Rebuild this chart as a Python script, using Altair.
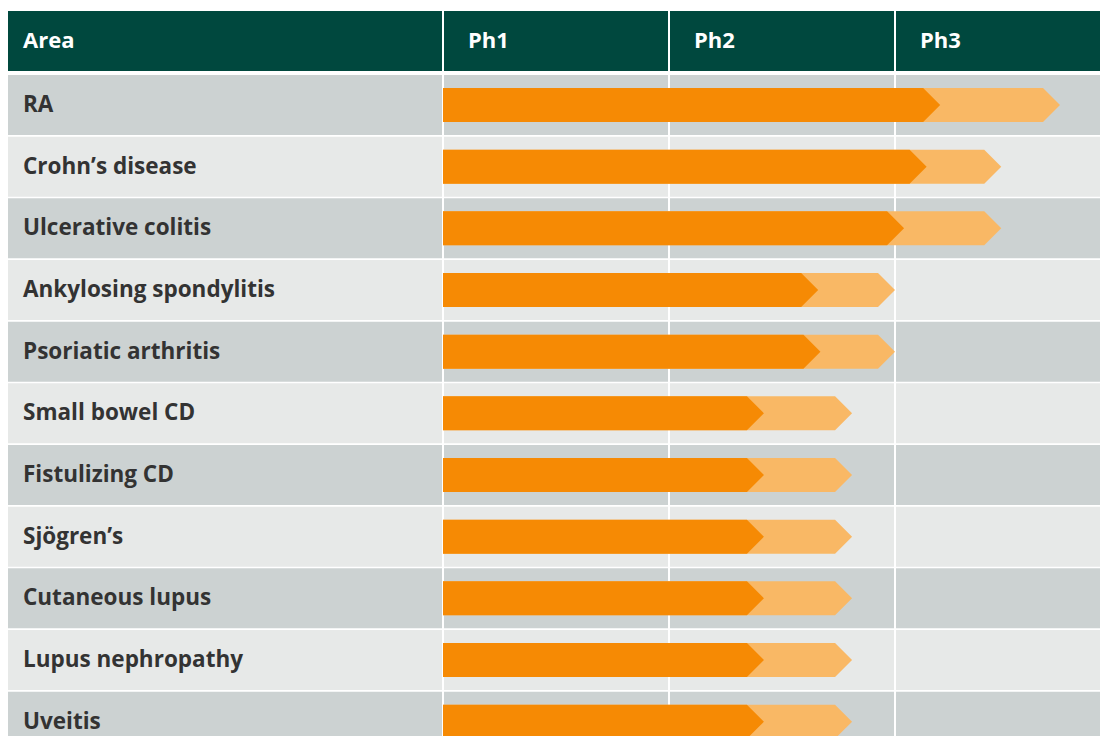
import altair as alt
import pandas as pd

# ---- data ----
areas = ["RA", "Crohn’s disease", "Ulcerative colitis", "Ankylosing spondylitis",
         "Psoriatic arthritis", "Small bowel CD", "Fistulizing CD", "Sjögren’s",
         "Cutaneous lupus", "Lupus nephropathy", "Uveitis"]
phases = ["Ph1", "Ph2", "Ph3"]
# progress in phase units (0 = start of Ph1, 1 = start of Ph2, ...)
current = [2.20, 2.14, 2.04, 1.66, 1.67, 1.42, 1.42, 1.42, 1.42, 1.42, 1.42]
planned = [2.73, 2.47, 2.47, 2.00, 2.00, 1.81, 1.81, 1.81, 1.81, 1.81, 1.81]

# ---- layout / styling constants ----
W, H = 1092, 728
PX_PER_PHASE = 226.0
PX_PER_ROW = 61.67
x_dom = [-435.0 / PX_PER_PHASE, -435.0 / PX_PER_PHASE + W / PX_PER_PHASE]
y_dom = [-97.0 / PX_PER_ROW, -97.0 / PX_PER_ROW + H / PX_PER_ROW]
HEADER_TOP, HEADER_BOT = -94.0 / PX_PER_ROW, -34.0 / PX_PER_ROW
ROW_HALF = 30.0 / PX_PER_ROW
BAR_HALF = 17.0 / PX_PER_ROW
TIP_LEN = 17.0 / PX_PER_PHASE

GREEN = "#00483e"
DARK_GREY, LIGHT_GREY = "#ccd2d2", "#e7e9e8"
ORANGE, LIGHT_ORANGE = "#f68a04", "#f9b865"
FONT = "Open Sans"
FS_HEAD = 22
FS_ROW = 22.5

xs = alt.Scale(domain=x_dom, nice=False, zero=False)
ys = alt.Scale(domain=y_dom, nice=False, zero=False, reverse=True)

# header band
header_df = pd.DataFrame({"x": [x_dom[0]], "x2": [x_dom[1]], "y": [HEADER_TOP], "y2": [HEADER_BOT]})
header = alt.Chart(header_df).mark_rect(color=GREEN).encode(
    x=alt.X("x:Q", scale=xs, axis=None), x2="x2:Q",
    y=alt.Y("y:Q", scale=ys, axis=None), y2="y2:Q")

# row bands
rows_df = pd.DataFrame({
    "area": areas,
    "i": list(range(len(areas))),
})
rows_df["y"] = rows_df["i"] - ROW_HALF
rows_df["y2"] = rows_df["i"] + ROW_HALF
rows_df["x"] = x_dom[0]
rows_df["x2"] = x_dom[1]
rows_df["shade"] = ["dark" if i % 2 == 0 else "light" for i in rows_df["i"]]
rows = alt.Chart(rows_df).mark_rect().encode(
    x=alt.X("x:Q", scale=xs, axis=None), x2="x2:Q",
    y=alt.Y("y:Q", scale=ys, axis=None), y2="y2:Q",
    color=alt.Color("shade:N", scale=alt.Scale(domain=["dark", "light"], range=[DARK_GREY, LIGHT_GREY]), legend=None))

# column dividers
rule_df = pd.DataFrame({"x": [0, 1, 2], "y": [HEADER_TOP] * 3, "y2": [y_dom[1]] * 3})
rules = alt.Chart(rule_df).mark_rule(color="white", strokeWidth=2).encode(
    x=alt.X("x:Q", scale=xs, axis=None),
    y=alt.Y("y:Q", scale=ys, axis=None), y2="y2:Q")

# chevron bars as areas
recs = []
for i, (a, c, p) in enumerate(zip(areas, current, planned)):
    for series, tip in (("planned", p), ("current", c)):
        key = f"{series}-{i}"
        recs += [
            {"key": key, "series": series, "x": 0.0, "top": i - BAR_HALF, "bot": i + BAR_HALF},
            {"key": key, "series": series, "x": tip - TIP_LEN, "top": i - BAR_HALF, "bot": i + BAR_HALF},
            {"key": key, "series": series, "x": tip, "top": float(i), "bot": float(i)},
        ]
bars_df = pd.DataFrame(recs)


def bar_layer(series, color):
    return alt.Chart(bars_df).transform_filter(alt.datum.series == series).mark_area(
        color=color, orient="vertical", interpolate="linear").encode(
        x=alt.X("x:Q", scale=xs, axis=None),
        y=alt.Y("top:Q", scale=ys, axis=None, stack=False), y2="bot:Q",
        detail="key:N")


bars_planned = bar_layer("planned", LIGHT_ORANGE)
bars_current = bar_layer("current", ORANGE)

# header texts
head_df = pd.DataFrame({"label": ["Area"] + phases,
                        "x": [x_dom[0]] + [0, 1, 2]})
head_df["y"] = (HEADER_TOP + HEADER_BOT) / 2
head_text_area = alt.Chart(head_df.iloc[:1]).mark_text(
    font=FONT, fontWeight="bold", fontSize=FS_HEAD, color="white", align="left", baseline="middle", dx=15).encode(
    x=alt.X("x:Q", scale=xs, axis=None), y=alt.Y("y:Q", scale=ys, axis=None), text="label:N")
head_text_ph = alt.Chart(head_df.iloc[1:]).mark_text(
    font=FONT, fontWeight="bold", fontSize=FS_HEAD, color="white", align="left", baseline="middle", dx=25).encode(
    x=alt.X("x:Q", scale=xs, axis=None), y=alt.Y("y:Q", scale=ys, axis=None), text="label:N")

# row labels
row_text = alt.Chart(rows_df).mark_text(
    font=FONT, fontWeight="bold", fontSize=FS_ROW, color="#333333", align="left", baseline="middle", dx=15).encode(
    x=alt.X("x:Q", scale=xs, axis=None), y=alt.Y("i:Q", scale=ys, axis=None), text="area:N")

chart = alt.layer(header, rows, rules, bars_planned, bars_current,
                  head_text_area, head_text_ph, row_text).properties(
    width=W, height=H, padding=0, autosize=alt.AutoSizeParams(type="none"),
    background="white"
).configure_view(stroke=None)

chart.save("out.html", embed_options={"renderer": "svg", "actions": False})
